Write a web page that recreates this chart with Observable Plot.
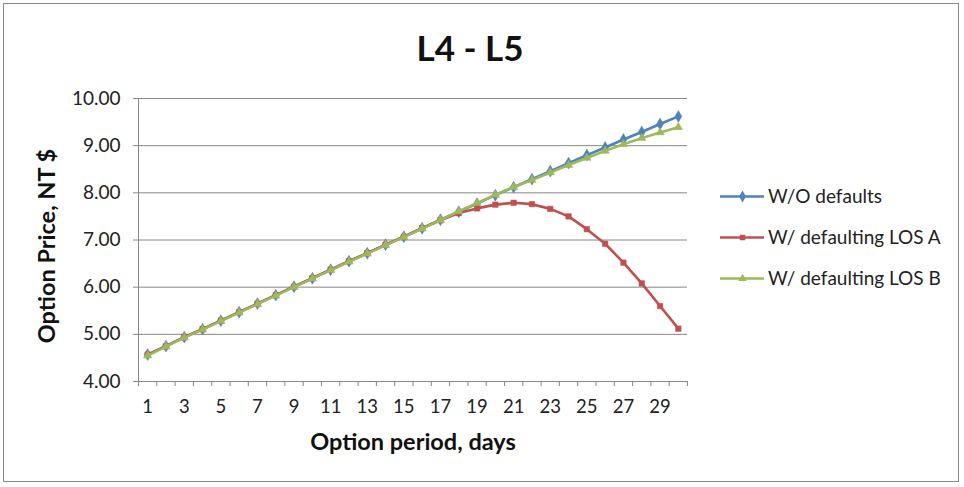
<!DOCTYPE html>
<html><head><meta charset="utf-8">
<script src="https://cdn.jsdelivr.net/npm/d3@7"></script>
<script src="https://cdn.jsdelivr.net/npm/@observablehq/plot@0.6"></script>
<style>
body{margin:0;background:#fff;font-family:Lato,"Open Sans",sans-serif;}
#wrap{position:relative;width:964px;height:487px;overflow:hidden;}
#frame{position:absolute;left:3px;top:3px;width:954px;height:477px;border:1px solid #8a8a8a;}
#title{position:absolute;left:370px;width:200px;top:25px;text-align:center;font-weight:bold;font-size:35px;color:#111;line-height:44px;}
#xtitle{position:absolute;left:213px;width:400px;top:427px;text-align:center;font-weight:bold;font-size:23.5px;color:#111;line-height:28px;}
#ytitle{position:absolute;left:46px;top:246px;transform:translate(-50%,-50%) rotate(-90deg);white-space:nowrap;font-weight:bold;font-size:23.5px;color:#111;line-height:28px;}
#plot{position:absolute;left:0;top:80px;}
#legend{position:absolute;left:720px;top:175px;font-size:19px;color:#222;}
.li{display:flex;align-items:center;height:41px;}
.li svg{margin-right:4px;}
</style></head>
<body>
<div id="wrap">
  <div id="frame"></div>
  <div id="title">L4 - L5</div>
  <div id="plot"></div>
  <div id="ytitle">Option Price, NT $</div>
  <div id="xtitle">Option period, days</div>
  <div id="legend"></div>
</div>
<script>
const days = d3.range(1, 31);
const woDefaults = [4.57,4.75,4.94,5.11,5.29,5.47,5.65,5.83,6.01,6.19,6.37,6.55,6.72,6.90,7.07,7.25,7.43,7.60,7.77,7.95,8.12,8.29,8.46,8.63,8.80,8.96,9.13,9.29,9.46,9.62];
const losA = [4.57,4.75,4.94,5.11,5.29,5.47,5.65,5.83,6.01,6.19,6.37,6.55,6.72,6.90,7.07,7.25,7.42,7.57,7.67,7.75,7.79,7.76,7.66,7.50,7.23,6.92,6.52,6.08,5.60,5.12];
const losB = [4.55,4.74,4.93,5.10,5.28,5.46,5.64,5.82,6.00,6.18,6.36,6.54,6.71,6.89,7.06,7.24,7.42,7.61,7.78,7.96,8.12,8.27,8.43,8.59,8.74,8.89,9.03,9.16,9.28,9.39];
const seriesNames = ["W/O defaults","W/ defaulting LOS A","W/ defaulting LOS B"];
const colors = ["#4F81BD","#C0504D","#9BBB59"];
const symbols = ["diamond","square","triangle"];
const yTicks = [4,5,6,7,8,9,10];
const xLabels = d3.range(1, 30, 2);

const seriesVals = [woDefaults, losA, losB];
const data = [];
seriesVals.forEach((vals, s) => vals.forEach((v, i) => data.push({series: seriesNames[s], day: days[i], value: v})));

const marks = [
  Plot.gridY(yTicks, {stroke: "#868686", strokeOpacity: 1}),
  Plot.axisY(yTicks, {tickFormat: d3.format(".2f"), tickSize: 5, tickPadding: 13, fontSize: 19, stroke: "#868686", fill: "#222", label: null}),
  Plot.axisX(d3.range(0.5, 31, 1), {tickFormat: () => "", tickSize: 5, stroke: "#868686", label: null}),
  Plot.axisX(xLabels, {tickSize: 0, tickPadding: 18, fontSize: 18.5, fill: "#222", label: null}),
  Plot.ruleX([0.5], {y1: 4, y2: 10, stroke: "#868686"}),
  Plot.ruleY([4], {stroke: "#868686"})
];
seriesNames.forEach((name, s) => {
  const d = data.filter(r => r.series === name);
  marks.push(Plot.line(d, {x: "day", y: "value", stroke: colors[s], strokeWidth: 2.6}));
  marks.push(Plot.dot(d, {x: "day", y: "value", fill: colors[s], symbol: symbols[s], r: s === 0 ? 3.6 : 3.1, stroke: colors[s], strokeWidth: 0.5}));
});

const chart = Plot.plot({
  width: 700, height: 380,
  marginLeft: 138, marginRight: 13, marginTop: 18, marginBottom: 79,
  x: {type: "linear", domain: [0.5, 30.5]},
  y: {domain: [4, 10]},
  style: {fontFamily: "Lato, 'Open Sans', sans-serif", background: "transparent"},
  marks
});
document.getElementById("plot").appendChild(chart);

const leg = document.getElementById("legend");
seriesNames.forEach((name, s) => {
  const row = document.createElement("div");
  row.className = "li";
  const sw = Plot.plot({
    width: 44, height: 14, margin: 0,
    x: {domain: [0, 1], axis: null}, y: {domain: [0, 1], axis: null},
    style: {background: "transparent"},
    marks: [
      Plot.ruleY([0.5], {x1: 0, x2: 1, stroke: colors[s], strokeWidth: 2.6}),
      Plot.dot([{x: 0.5, y: 0.5}], {x: "x", y: "y", fill: colors[s], symbol: symbols[s], r: s === 0 ? 3.6 : 3.1})
    ]
  });
  row.appendChild(sw);
  const t = document.createElement("span");
  t.textContent = name;
  row.appendChild(t);
  leg.appendChild(row);
});
</script>
</body></html>
